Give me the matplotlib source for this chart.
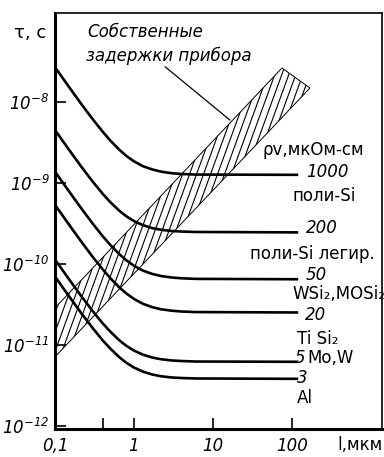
import matplotlib
matplotlib.use("Agg")
import matplotlib.pyplot as plt
from matplotlib.collections import LineCollection
import numpy as np

plt.rcParams['font.family'] = ['DejaVu Sans']
plt.rcParams['mathtext.fontset'] = 'custom'
plt.rcParams['mathtext.rm'] = 'DejaVu Sans:italic'
plt.rcParams['mathtext.it'] = 'DejaVu Sans:italic'
plt.rcParams['mathtext.default'] = 'rm'

# ---- data ----
L = [0.1, 0.13, 0.17, 0.22, 0.3, 0.4, 0.5, 0.65, 0.8, 1.0, 1.3, 1.7, 2.2, 3, 4, 6, 120]  # мкм
tau_1000 = [2.70e-8, 1.875e-8, 1.30e-8, 9.18e-9, 6.14e-9, 4.32e-9, 3.35e-9, 2.58e-9, 2.16e-9,
            1.85e-9, 1.61e-9, 1.47e-9, 1.38e-9, 1.32e-9, 1.29e-9, 1.27e-9, 1.26e-9]
tau_200 = [4.51e-9, 3.14e-9, 2.18e-9, 1.545e-9, 1.04e-9, 7.38e-10, 5.81e-10, 4.55e-10, 3.87e-10,
           3.38e-10, 3.01e-10, 2.77e-10, 2.64e-10, 2.55e-10, 2.51e-10, 2.48e-10, 2.45e-10]
tau_50 = [1.38e-9, 9.62e-10, 6.67e-10, 4.71e-10, 3.15e-10, 2.21e-10, 1.72e-10, 1.32e-10, 1.107e-10,
          9.48e-11, 8.26e-11, 7.52e-11, 7.08e-11, 6.79e-11, 6.64e-11, 6.53e-11, 6.46e-11]
tau_20 = [5.38e-10, 3.74e-10, 2.59e-10, 1.83e-10, 1.22e-10, 8.61e-11, 6.68e-11, 5.14e-11, 4.31e-11,
          3.69e-11, 3.21e-11, 2.92e-11, 2.75e-11, 2.64e-11, 2.58e-11, 2.54e-11, 2.51e-11]
tau_5 = [1.13e-10, 7.89e-11, 5.48e-11, 3.88e-11, 2.61e-11, 1.85e-11, 1.46e-11, 1.14e-11, 9.72e-12,
         8.49e-12, 7.55e-12, 6.97e-12, 6.64e-12, 6.41e-12, 6.31e-12, 6.22e-12, 6.17e-12]
tau_3 = [6.98e-11, 4.86e-11, 3.38e-11, 2.39e-11, 1.61e-11, 1.14e-11, 9.0e-12, 7.05e-12, 6.0e-12,
         5.24e-12, 4.66e-12, 4.30e-12, 4.09e-12, 3.95e-12, 3.89e-12, 3.84e-12, 3.80e-12]
curves = [tau_1000, tau_200, tau_50, tau_20, tau_5, tau_3]

# device intrinsic delay band (polygon corners)
band_L = [0.1, 74.7, 169, 0.1]
band_tau = [2.86e-11, 2.63e-8, 1.49e-8, 7.1e-12]

xticks = [0.1, 1, 10, 100]
xticklabels = ['0,1', '1', '10', '100']
yticks = [1e-12, 1e-11, 1e-10, 1e-9, 1e-8]
yticklabels = [r'$10^{-12}$', r'$10^{-11}$', r'$10^{-10}$', r'$10^{-9}$', r'$10^{-8}$']

W, H = 384, 457
fig = plt.figure(figsize=(W / 100, H / 100), dpi=100)
ax_w, ax_h = 382 - 55, 429 - 13
ax = fig.add_axes([55 / W, (H - 429) / H, ax_w / W, ax_h / H])
ax.set_xscale('log')
ax.set_yscale('log')
ax.set_xlim(0.1, 10 ** 3.14)
ax.set_ylim(10 ** -12.04, 10 ** -6.90)

band = ax.fill(band_L, band_tau, facecolor='white', edgecolor='black', linewidth=0.7, zorder=1)[0]
# steep hatching texture clipped to the band
angle = np.deg2rad(70)
run = ax_h / np.tan(angle) / ax_w
x0s = np.arange(-0.6, 1.2, 7.0 / ax_w)
segs = [[(x0, 0), (x0 + run, 1)] for x0 in x0s]
lc = LineCollection(segs, transform=ax.transAxes, colors='black', linewidths=0.8, zorder=2)
ax.add_collection(lc, autolim=False)
lc.set_clip_path(band)

for c in curves:
    ax.plot(L, c, color='black', linewidth=1.9, solid_capstyle='butt', zorder=3)

ax.set_xticks(xticks)
ax.set_xticklabels(xticklabels, fontsize=12, style='italic')
ax.set_yticks(yticks)
ax.set_yticklabels(yticklabels, fontsize=12)
ax.minorticks_off()
ax.set_xticks([0.4], minor=True)
ax.tick_params(which='both', direction='in', length=8, width=1.2, color='black')
ax.tick_params(axis='x', pad=6)
ax.tick_params(axis='y', pad=4)
for s in ['left', 'bottom']:
    ax.spines[s].set_linewidth(2.2)
for s in ['top', 'right']:
    ax.spines[s].set_linewidth(1.2)
ax.set_xlim(0.1, 10 ** 3.14)
ax.set_ylim(10 ** -12.04, 10 ** -6.90)

def t(x, y, s, **kw):
    kw.setdefault('fontsize', 12)
    kw.setdefault('va', 'center')
    kw.setdefault('ha', 'left')
    fig.text(x / W, 1 - y / H, s, **kw)

t(14, 33, 'τ, c', fontsize=13)
t(383, 445, 'l,мкм', ha='right', fontsize=12)
t(87, 32, 'Собственные', style='italic')
t(86, 56, 'задержки прибора', style='italic')
t(262, 150, 'ρv,мкОм-см')

t(306, 172, '1000', style='italic')
t(292, 196, 'поли-Si')
t(306, 228, '200', style='italic')
t(250, 254, 'поли-Si легир.')
t(306, 275, '50', style='italic')
t(292, 294, 'WSi₂,MOSi₂')
t(305, 315, '20', style='italic')
t(297, 339, 'Ti Si₂')
t(295, 358, '5', style='italic')
t(307, 358, 'Mo,W')
t(297, 378, '3', style='italic')
t(297, 398, 'Al')

ax.annotate('', xy=(17.4, 5.7e-9), xycoords='data',
            xytext=(163, H - 65), textcoords='figure pixels',
            arrowprops=dict(arrowstyle='-', color='black', linewidth=0.9))

fig.savefig('out.png', dpi=100)
